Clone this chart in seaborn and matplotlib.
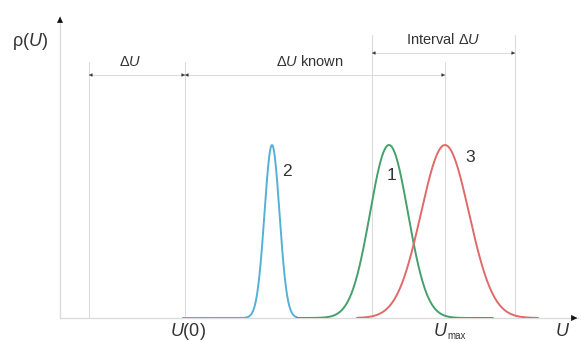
import numpy as np
import pandas as pd
import seaborn as sns
import matplotlib.pyplot as plt

# curve parameters (axis units = px from origin)
curve_labels = ['2', '1', '3']
curve_colors = ['#56b1d6', '#45a06c', '#e06a6a']
curve_centers = [212, 329, 385]
curve_sigmas = [7.5, 19, 24]
curve_starts = [123, 237, 297]
curve_ends = [237, 433, 478]
curve_height = 173
label_pos = [(227, 146), (331, 143), (410, 160)]

# reference levels on the U axis
guide_x = [29, 125, 312, 385, 455]
guide_top = [256, 256, 283, 256, 283]

sns.set_style('white')
plt.rcParams['font.family'] = ['Liberation Sans', 'DejaVu Sans']
plt.rcParams['mathtext.fontset'] = 'custom'
plt.rcParams['mathtext.rm'] = 'Liberation Sans'
plt.rcParams['mathtext.it'] = 'Liberation Sans:italic'

fig = plt.figure(figsize=(5.81, 3.41), dpi=100)
ax = fig.add_axes([60 / 581, 23 / 341, 521 / 581, 318 / 341])
ax.set_xlim(0, 521)
ax.set_ylim(0, 318)
ax.axis('off')

gray = '#dcdcdc'
dark = '#333333'

# guide lines
for gx, gt in zip(guide_x, guide_top):
    ax.plot([gx, gx], [0, gt], color=gray, lw=0.8, zorder=1)

# curves
rows = []
for lab, c, s, a, b in zip(curve_labels, curve_centers, curve_sigmas, curve_starts, curve_ends):
    u = np.linspace(a, b, 300)
    rows.append(pd.DataFrame({'U': u, 'rho': curve_height * np.exp(-0.5 * ((u - c) / s) ** 2), 'curve': lab}))
df = pd.concat(rows)
sns.lineplot(data=df, x='U', y='rho', hue='curve', palette=dict(zip(curve_labels, curve_colors)),
             lw=1.4, legend=False, ax=ax, zorder=3, sort=False)
for lab, (tx, ty) in zip(curve_labels, label_pos):
    ax.text(tx, ty, lab, fontsize=12.5, color='#333333', ha='center', va='center')

# axes with arrowheads
ax.plot([0, 518], [0, 0], color=gray, lw=1.0, zorder=2, clip_on=False)
ax.plot([0, 0], [0, 302], color=gray, lw=1.0, zorder=2, clip_on=False)
head = dict(arrowstyle='-|>', color='#111111', mutation_scale=9, lw=0.5)
ax.annotate('', xy=(520, 0), xytext=(512, 0), arrowprops=head, annotation_clip=False)
ax.annotate('', xy=(0, 304), xytext=(0, 296), arrowprops=head, annotation_clip=False)


def span(x0, x1, y):
    ax.plot([x0, x1], [y, y], color=gray, lw=0.8, zorder=2)
    tip = dict(arrowstyle='-|>', color=dark, mutation_scale=5, lw=0.3)
    ax.annotate('', xy=(x0, y), xytext=(x0 + 4, y), arrowprops=tip)
    ax.annotate('', xy=(x1, y), xytext=(x1 - 4, y), arrowprops=tip)


span(29, 125, 243)
span(125, 385, 243)
span(312, 455, 265)

tcol = '#333333'
ax.text(70, 256, r'$\mathrm{Δ}U$', fontsize=10.5, ha='center', va='center', color=tcol)
ax.text(250, 256, r'$\mathrm{Δ}U$ known', fontsize=10.5, ha='center', va='center', color=tcol)
ax.text(383, 278, r'Interval $\mathrm{Δ}U$', fontsize=10.5, ha='center', va='center', color=tcol)
ax.text(-30, 276, r'$\mathrm{ρ(}U\mathrm{)}$', fontsize=13, ha='center', va='center', color=tcol, clip_on=False)
ax.text(128, -13, r'$U\mathrm{(0)}$', fontsize=13, ha='center', va='center', color=tcol, clip_on=False)
ax.text(381, -14, r'$U$', fontsize=13, ha='center', va='center', color=tcol, clip_on=False)
ax.text(387, -18, 'max', fontsize=7, ha='left', va='center', color=tcol, clip_on=False)
ax.text(503, -14, r'$U$', fontsize=13, ha='center', va='center', color=tcol, clip_on=False)

fig.savefig('out.png', dpi=100)
